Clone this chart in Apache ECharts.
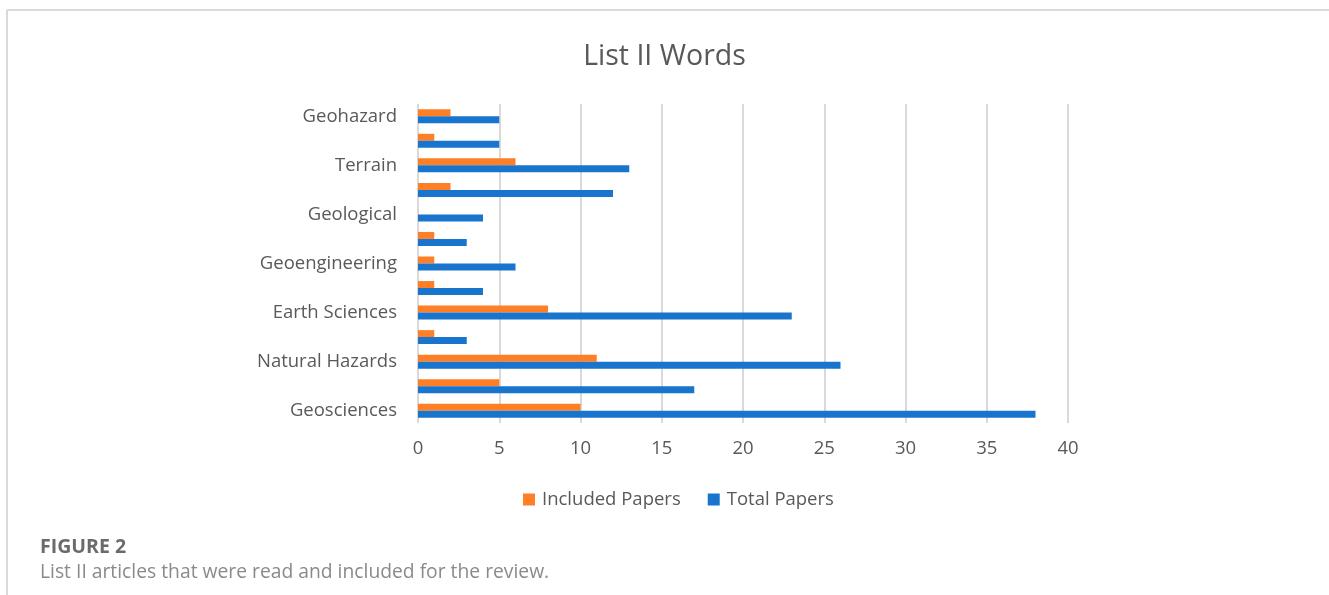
<!DOCTYPE html>
<html>
<head>
<meta charset="utf-8">
<script src="https://cdn.jsdelivr.net/npm/echarts@6/dist/echarts.min.js"></script>
<style>
html,body{margin:0;padding:0;background:#fff;}
#chart{width:1329px;height:595px;}
</style>
</head>
<body>
<div id="chart"></div>
<script>
// Categories from bottom to top (unlabeled rows have empty labels in the source)
const categories = ['Geosciences', '', 'Natural Hazards', '', 'Earth Sciences', '', 'Geoengineering', '', 'Geological', '', 'Terrain', '', 'Geohazard'];
const includedPapers = [10, 5, 11, 1, 8, 1, 1, 1, 0, 2, 6, 1, 2];
const totalPapers = [38, 17, 26, 3, 23, 4, 6, 3, 4, 12, 13, 5, 5];
const xTicks = { min: 0, max: 40, interval: 5 };

const FONT = '"Open Sans", "Noto Sans", sans-serif';
const chart = echarts.init(document.getElementById('chart'), null, { renderer: 'canvas' });
chart.setOption({
  backgroundColor: '#ffffff',
  animation: false,
  title: [
    { text: 'List II Words', left: 'center', top: 37,
      textStyle: { fontFamily: FONT, fontSize: 28.5, fontWeight: 'normal', color: '#595959' } },
    { text: 'FIGURE 2', left: 35, top: 532,
      textStyle: { fontFamily: FONT, fontSize: 19.5, fontWeight: 'bold', color: '#6b6b6b' } },
    { text: 'List II articles that were read and included for the review.', left: 35, top: 558,
      textStyle: { fontFamily: FONT, fontSize: 19.3, fontWeight: 'normal', color: '#8a8a8a' } }
  ],
  graphic: [
    { type: 'line', shape: { x1: 7, y1: 10, x2: 1329, y2: 10 }, style: { stroke: '#d9d9d9', lineWidth: 2 } },
    { type: 'line', shape: { x1: 7, y1: 10, x2: 7, y2: 595 }, style: { stroke: '#d9d9d9', lineWidth: 2 } }
  ],
  legend: {
    data: ['Included Papers', 'Total Papers'],
    left: 518, top: 485,
    icon: 'rect', itemWidth: 12, itemHeight: 12, itemGap: 27,
    textStyle: { fontFamily: FONT, fontSize: 18.5, color: '#595959', padding: [0, 0, 0, 2] }
  },
  grid: { left: 418, right: 261, top: 104, bottom: 172, outerBoundsMode: 'none' },
  xAxis: {
    type: 'value', min: xTicks.min, max: xTicks.max, interval: xTicks.interval,
    axisLine: { show: false }, axisTick: { show: false },
    splitLine: { show: true, lineStyle: { color: '#d9d9d9', width: 2 } },
    axisLabel: { fontFamily: FONT, fontSize: 18.5, color: '#595959', margin: 16 }
  },
  yAxis: {
    type: 'category', data: categories,
    axisLine: { show: false }, axisTick: { show: false },
    axisLabel: { interval: 0, fontFamily: FONT, fontSize: 18.5, color: '#595959', margin: 21 }
  },
  series: [
    { name: 'Included Papers', type: 'bar', data: includedPapers, barWidth: 7, barGap: '0%',
      itemStyle: { color: '#FF7F27' } },
    { name: 'Total Papers', type: 'bar', data: totalPapers, barWidth: 7, barGap: '0%',
      itemStyle: { color: '#1874CD' } }
  ]
});
</script>
</body>
</html>
